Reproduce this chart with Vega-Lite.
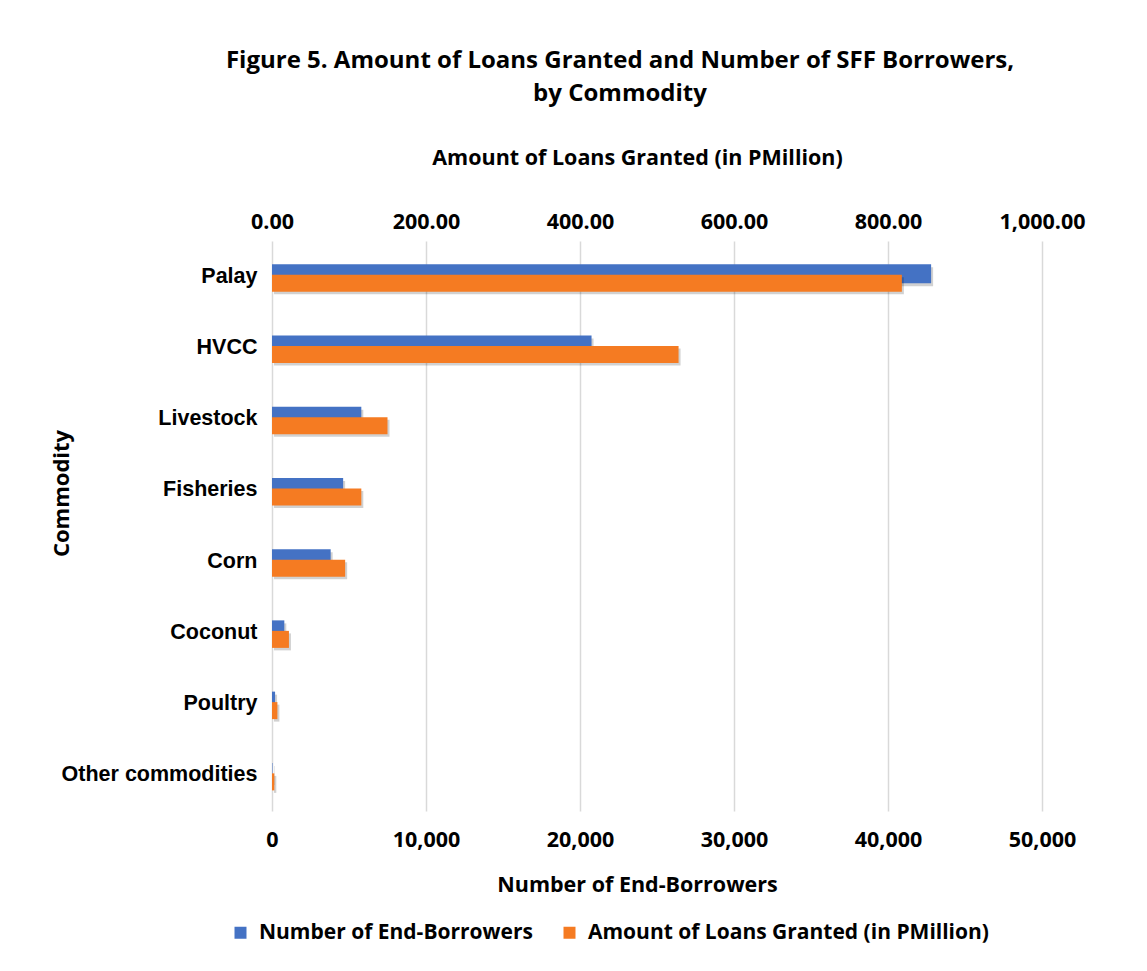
{
  "$schema": "https://vega.github.io/schema/vega-lite/v6.json",
  "width": 770,
  "height": 570,
  "autosize": {"type": "none"},
  "padding": {"left": 272, "top": 241, "right": 105, "bottom": 160},
  "background": "white",
  "title": {
    "text": ["Figure 5. Amount of Loans Granted and Number of SFF Borrowers,", "by Commodity"],
    "font": "Open Sans",
    "fontSize": 24,
    "fontWeight": "bold",
    "color": "#000000",
    "anchor": "middle",
    "frame": "group",
    "dx": -37,
    "lineHeight": 33,
    "offset": 41
  },
  "config": {
    "view": {"stroke": null},
    "axis": {
      "labelColor": "#000000",
      "titleColor": "#000000",
      "labelFont": "Open Sans",
      "labelFontWeight": "bold",
      "labelFontSize": 21.5,
      "titleFont": "Open Sans",
      "titleFontWeight": "bold",
      "titleFontSize": 21.5,
      "ticks": false,
      "domain": false,
      "labelFlush": false
    }
  },
  "data": {
    "values": [
      {"commodity": "Palay", "borrowers": 42800, "loans": 818},
      {"commodity": "HVCC", "borrowers": 20750, "loans": 528},
      {"commodity": "Livestock", "borrowers": 5800, "loans": 150},
      {"commodity": "Fisheries", "borrowers": 4620, "loans": 116},
      {"commodity": "Corn", "borrowers": 3810, "loans": 95},
      {"commodity": "Coconut", "borrowers": 800, "loans": 22},
      {"commodity": "Poultry", "borrowers": 200, "loans": 7},
      {"commodity": "Other commodities", "borrowers": 30, "loans": 3}
    ]
  },
  "encoding": {
    "y": {
      "field": "commodity",
      "type": "nominal",
      "sort": ["Palay", "HVCC", "Livestock", "Fisheries", "Corn", "Coconut", "Poultry", "Other commodities"],
      "scale": {"paddingInner": 0, "paddingOuter": 0},
      "axis": {
        "title": "Commodity",
        "labelFont": "Liberation Sans",
        "labelFontSize": 21.5,
        "labelPadding": 15,
        "labelLimit": 400,
        "titleX": -204,
        "titleY": 252,
        "titleBaseline": "alphabetic",
        "titleFontSize": 22,
        "grid": false
      }
    }
  },
  "layer": [
    {
      "encoding": {
        "x": {
          "field": "borrowers",
          "type": "quantitative",
          "scale": {"domain": [0, 50000], "nice": false},
          "axis": {
            "orient": "bottom",
            "title": "Number of End-Borrowers",
            "values": [0, 10000, 20000, 30000, 40000, 50000],
            "format": ",d",
            "grid": true,
            "gridColor": "#D9D9D9",
            "gridWidth": 1.5,
            "labelPadding": 18,
            "titleX": 365,
            "titleY": 80,
            "titleBaseline": "alphabetic"
          }
        }
      },
      "layer": [
        {
          "mark": {"type": "bar", "height": 19, "yOffset": 0, "xOffset": 2, "color": "#000000", "opacity": 0.18},
          "encoding": {}
        },
        {
          "mark": {"type": "bar", "height": 19, "yOffset": -3},
          "encoding": {
            "color": {
              "datum": "Number of End-Borrowers",
              "type": "nominal",
              "scale": {
                "domain": ["Number of End-Borrowers", "Amount of Loans Granted (in PMillion)"],
                "range": ["#4472C4", "#F57B22"]
              },
              "legend": {
                "orient": "none",
                "legendX": -42,
                "legendY": 681,
                "direction": "horizontal",
                "title": null,
                "symbolType": "square",
                "symbolSize": 144,
                "symbolStrokeWidth": 0,
                "labelFont": "Open Sans",
                "labelFontWeight": "bold",
                "labelFontSize": 21,
                "labelColor": "#000000",
                "labelOffset": 8,
                "columnPadding": 26,
                "labelLimit": 600
              }
            }
          }
        }
      ]
    },
    {
      "encoding": {
        "x": {
          "field": "loans",
          "type": "quantitative",
          "scale": {"domain": [0, 1000], "nice": false},
          "axis": {
            "orient": "top",
            "title": "Amount of Loans Granted (in PMillion)",
            "values": [0, 200, 400, 600, 800, 1000],
            "format": ",.2f",
            "grid": false,
            "labelPadding": 13,
            "labelBaseline": "alphabetic",
            "titleX": 365,
            "titleY": -77,
            "titleBaseline": "alphabetic"
          }
        }
      },
      "layer": [
        {
          "mark": {"type": "bar", "height": 17, "yOffset": 9, "xOffset": 2, "color": "#000000", "opacity": 0.18},
          "encoding": {}
        },
        {
          "mark": {"type": "bar", "height": 17, "yOffset": 6.5},
          "encoding": {
            "color": {"datum": "Amount of Loans Granted (in PMillion)", "type": "nominal"}
          }
        }
      ]
    }
  ],
  "resolve": {"scale": {"x": "independent"}, "axis": {"x": "independent"}}
}
